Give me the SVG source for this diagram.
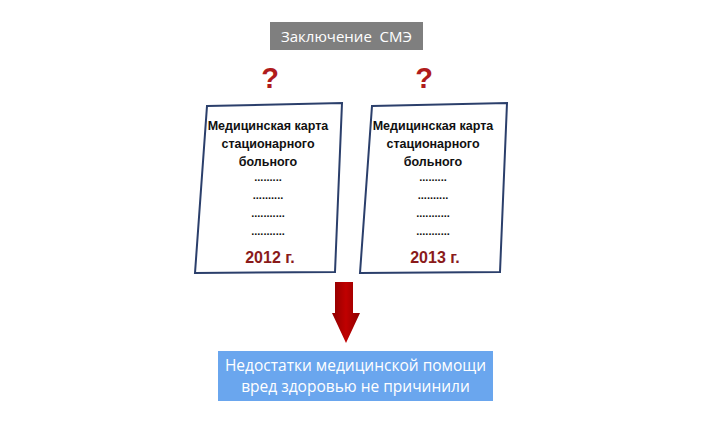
<svg xmlns="http://www.w3.org/2000/svg" width="710" height="425" viewBox="0 0 710 425">
<defs>
<style>
.card{fill:#ffffff;stroke:#2b3f6b;stroke-width:2}
.ct{font-family:"Liberation Sans",Arial,sans-serif;font-weight:bold;font-size:12.5px;fill:#111;text-anchor:middle}
.dots{font-family:"Liberation Sans",Arial,sans-serif;font-weight:bold;font-size:11px;fill:#111;text-anchor:middle}
.yr{font-family:"Liberation Sans",Arial,sans-serif;font-weight:bold;font-size:16px;fill:#8a1a1a;text-anchor:middle}
.q{font-family:"Liberation Sans",Arial,sans-serif;font-weight:bold;font-size:29px;fill:#b01c1c;text-anchor:middle}
.wt{font-family:"Open Sans","Liberation Sans",Arial,sans-serif;fill:#ffffff;text-anchor:middle}
</style>
<linearGradient id="ag" x1="0" y1="0" x2="1" y2="0">
<stop offset="0" stop-color="#8e0000"/>
<stop offset="0.5" stop-color="#c00000"/>
<stop offset="1" stop-color="#8e0000"/>
</linearGradient>
</defs>
<rect width="710" height="425" fill="#ffffff"/>
<g id="sme">
<rect x="270" y="22" width="153" height="28" fill="#7f7f7f"/>
<text class="wt" x="346.5" y="41.5" font-size="15" xml:space="preserve">Заключение  СМЭ</text>
</g>
<g id="q1"><text class="q" x="270" y="88">?</text></g>
<g id="q2"><text class="q" x="424" y="88">?</text></g>
<g id="card2012">
<polygon class="card" points="207,106 342,103 335,272 195,273"/>
<text class="ct" x="268" y="130">Медицинская карта</text>
<text class="ct" x="268" y="148">стационарного</text>
<text class="ct" x="268" y="166">больного</text>
<text class="dots" x="268" y="181">.........</text>
<text class="dots" x="268" y="199">..........</text>
<text class="dots" x="268" y="217">...........</text>
<text class="dots" x="268" y="235">...........</text>
<text class="yr" x="270" y="263">2012 г.</text>
</g>
<g id="card2013">
<polygon class="card" points="372,106 507,103 500,272 360,273"/>
<text class="ct" x="433" y="130">Медицинская карта</text>
<text class="ct" x="433" y="148">стационарного</text>
<text class="ct" x="433" y="166">больного</text>
<text class="dots" x="433" y="181">.........</text>
<text class="dots" x="433" y="199">..........</text>
<text class="dots" x="433" y="217">...........</text>
<text class="dots" x="433" y="235">...........</text>
<text class="yr" x="435" y="263">2013 г.</text>
</g>
<g id="connectors">
<polygon points="335,282 353,282 353,313 360,313 346,343 332,313 335,313" fill="url(#ag)"/>
</g>
<g id="result">
<rect x="218" y="351" width="275" height="50" fill="#6aa6ee"/>
<text class="wt" x="355.5" y="371" font-size="15.5">Недостатки медицинской помощи</text>
<text class="wt" x="355.5" y="392" font-size="15.5">вред здоровью не причинили</text>
</g>
</svg>
